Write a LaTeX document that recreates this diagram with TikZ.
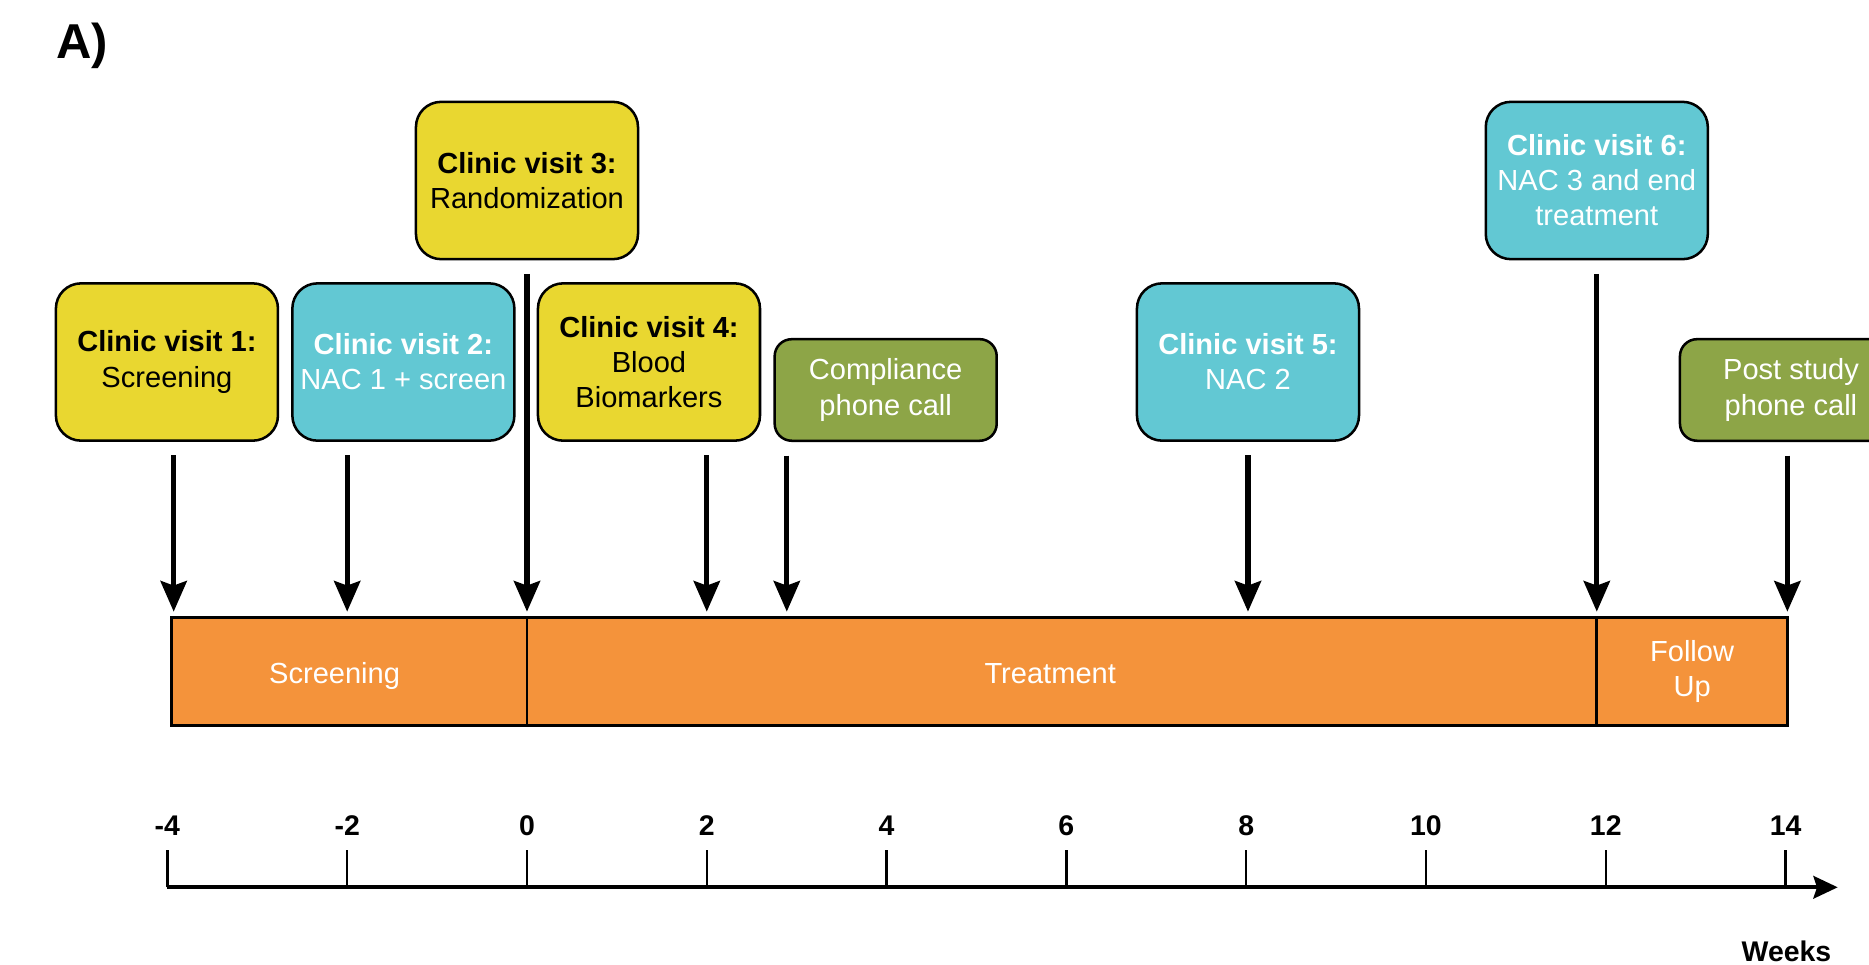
\documentclass[tikz,border=0pt]{standalone}
\usepackage{fontspec}
\setmainfont{Liberation Sans}
\usetikzlibrary{arrows.meta}

\definecolor{visityellow}{RGB}{233,215,48}
\definecolor{visitcyan}{RGB}{98,200,211}
\definecolor{callgreen}{RGB}{141,165,71}
\definecolor{phaseorange}{RGB}{244,147,59}

\tikzset{
  visit/.style={draw=black, line width=0.8pt, rounded corners=0.28cm,
    minimum width=2.47cm, minimum height=1.75cm, inner sep=0pt,
    align=center, font=\fontsize{9.2}{11.1}\selectfont},
  yellow visit/.style={visit, fill=visityellow, text=black},
  cyan visit/.style={visit, fill=visitcyan, text=white},
  call/.style={visit, fill=callgreen, text=white, minimum height=1.13cm,
    rounded corners=0.19cm},
  phase/.style={draw=black, line width=0.9pt, fill=phaseorange},
  phase text/.style={text=white, align=center,
    font=\fontsize{9.2}{11.1}\selectfont},
  visit arrow/.style={line width=1.7pt, shorten <=0.15cm,
    -{Stealth[length=0.34cm, width=0.29cm, inset=0.05cm]}},
  week tick/.style={line width=0.8pt},
  tick label/.style={anchor=base, font=\fontsize{9}{11}\selectfont\bfseries},
}

\begin{document}
\begin{tikzpicture}
        \useasboundingbox (-5.862,0) rectangle (14.928,10.734);
        \clip (-5.862,0) rectangle (14.928,10.734);
        %% Panel label
        \node[anchor=base west, inner sep=0pt, font=\fontsize{15.5}{18}\selectfont\bfseries] (panel) at (-5.24,10.085) {A)};
        %% Visits
        \node[yellow visit] (v1) at (-4.005,6.707) {\textbf{Clinic visit 1:}\\Screening};
        \node[cyan visit] (v2) at (-1.375,6.707) {\textbf{Clinic visit 2:}\\NAC 1 + screen};
        \node[yellow visit] (v3) at (0,8.726) {\textbf{Clinic visit 3:}\\Randomization};
        \node[yellow visit] (v4) at (1.357,6.707) {\textbf{Clinic visit 4:}\\Blood\\Biomarkers};
        \node[call] (c1) at (3.99,6.396) {Compliance\\phone call};
        \node[cyan visit] (v5) at (8.02,6.707) {\textbf{Clinic visit 5:}\\NAC 2};
        \node[cyan visit] (v6) at (11.90,8.726) {\textbf{Clinic visit 6:}\\NAC 3 and end\\treatment};
        \node[call] (c2) at (14.06,6.396) {Post study\\phone call};
        %% Phases
        \draw[phase] (-3.95,2.662) rectangle (0,3.868);
        \draw[phase] (0,2.662) rectangle (11.9,3.868);
        \draw[phase] (11.9,2.662) rectangle (14.02,3.868);
        \node[phase text] (scr) at (-2.14,3.215) {Screening};
        \node[phase text] (trt) at (5.82,3.24) {Treatment};
        \node[phase text] (fol) at (12.96,3.265) {Follow\\Up};
        %% Arrows
        \coordinate (t1) at (-3.93,3.93);
        \coordinate (t2) at (-2,3.93);
        \coordinate (t3) at (0,3.93);
        \coordinate (t4) at (2,3.93);
        \coordinate (t5) at (2.89,3.93);
        \coordinate (t6) at (8.02,3.93);
        \coordinate (t7) at (11.9,3.93);
        \coordinate (t8) at (14.02,3.93);
        \draw[visit arrow] (v1.south -| t1) -- (t1);
        \draw[visit arrow] (v2.south -| t2) -- (t2);
        \draw[visit arrow] (v3.south -| t3) -- (t3);
        \draw[visit arrow] (v4.south -| t4) -- (t4);
        \draw[visit arrow] (c1.south -| t5) -- (t5);
        \draw[visit arrow] (v5.south -| t6) -- (t6);
        \draw[visit arrow] (v6.south -| t7) -- (t7);
        \draw[visit arrow] (c2.south -| t8) -- (t8);
        %% Weeks axis
        \draw[line width=1.3pt, -{Stealth[length=0.27cm, width=0.25cm, inset=0.04cm]}] (-4,0.864) -- (14.58,0.864);
        \foreach \w in {-4,-2,...,14} {
          \draw[week tick] (\w,0.864) -- (\w,1.279);
          \node[tick label] (w\w) at (\w,1.435) {\w};
        }
        \node[tick label] (weeks) at (14.01,0.037) {Weeks};
    \end{tikzpicture}
\end{document}
